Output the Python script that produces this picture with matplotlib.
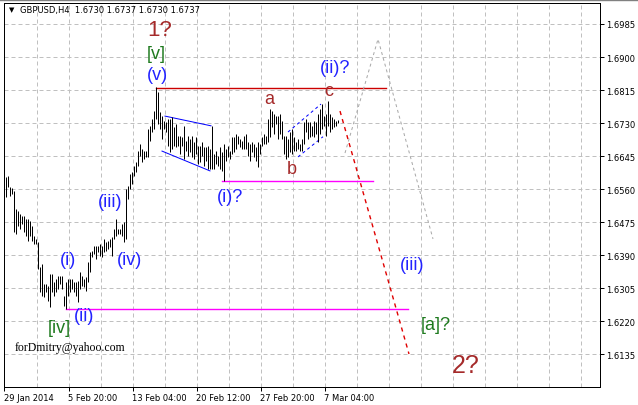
import matplotlib.pyplot as plt
from matplotlib.lines import Line2D

# GBPUSD H4 bars (one value per bar)
highs = [
    1.6592, 1.6594, 1.6566, 1.6563, 1.6555, 1.6509, 1.6504, 1.6496, 1.6491, 1.6491,
    1.6483, 1.6483, 1.6478, 1.6465, 1.6440, 1.6432, 1.6424, 1.6360, 1.6367, 1.6316,
    1.6316, 1.6311, 1.6342, 1.6342, 1.6321, 1.6329, 1.6337, 1.6337, 1.6337, 1.6285,
    1.6321, 1.6329, 1.6329,
    1.6329, 1.6321, 1.6321, 1.6324, 1.6347, 1.6337, 1.6329, 1.6334, 1.6373, 1.6398,
    1.6401, 1.6414, 1.6414, 1.6414, 1.6419, 1.6414, 1.6432, 1.6424, 1.6427, 1.6432,
    1.6437, 1.6458, 1.6483, 1.6458, 1.6458, 1.6471, 1.6476, 1.6561, 1.6568, 1.6599,
    1.6604, 1.6620, 1.6630, 1.6658, 1.6676, 1.6663, 1.6658,
    1.6658, 1.6715, 1.6723, 1.6741, 1.6761, 1.6823, 1.6810, 1.6759, 1.6748, 1.6735,
    1.6733, 1.6741, 1.6741, 1.6746, 1.6720, 1.6728, 1.6697, 1.6697, 1.6695, 1.6723,
    1.6684, 1.6697, 1.6689, 1.6697, 1.6681, 1.6695, 1.6671, 1.6671, 1.6681, 1.6669,
    1.6669, 1.6671, 1.6663, 1.6723,
    1.6651, 1.6658, 1.6646, 1.6669, 1.6656, 1.6676, 1.6663, 1.6671, 1.6658, 1.6695,
    1.6695, 1.6702, 1.6697, 1.6689, 1.6684, 1.6697, 1.6702, 1.6681, 1.6676, 1.6681,
    1.6676, 1.6669, 1.6681, 1.6676, 1.6695, 1.6702, 1.6697, 1.6741, 1.6766, 1.6761,
    1.6753, 1.6748, 1.6748, 1.6753,
    1.6735, 1.6697, 1.6697, 1.6689, 1.6707, 1.6715, 1.6695, 1.6681, 1.6689, 1.6676,
    1.6689, 1.6733, 1.6741, 1.6733, 1.6733, 1.6723, 1.6735, 1.6733, 1.6753, 1.6766,
    1.6779, 1.6748, 1.6753, 1.6787, 1.6753, 1.6746, 1.6741, 1.6735, 1.6737,
]
lows = [
    1.6540, 1.6566, 1.6543, 1.6548, 1.6450, 1.6445, 1.6465, 1.6458, 1.6471, 1.6450,
    1.6440, 1.6427, 1.6440, 1.6427, 1.6419, 1.6419, 1.6355, 1.6295, 1.6285, 1.6282,
    1.6295, 1.6272, 1.6257, 1.6295, 1.6285, 1.6295, 1.6303, 1.6316, 1.6303, 1.6259,
    1.6251, 1.6285, 1.6295,
    1.6303, 1.6295, 1.6285, 1.6269, 1.6303, 1.6311, 1.6308, 1.6298, 1.6321, 1.6347,
    1.6386, 1.6393, 1.6380, 1.6398, 1.6388, 1.6386, 1.6398, 1.6401, 1.6406, 1.6411,
    1.6388, 1.6432, 1.6440, 1.6445, 1.6445, 1.6440, 1.6424, 1.6432, 1.6535, 1.6561,
    1.6573, 1.6594, 1.6604, 1.6620, 1.6646, 1.6630, 1.6638,
    1.6643, 1.6643, 1.6684, 1.6707, 1.6715, 1.6741, 1.6728, 1.6715, 1.6689, 1.6715,
    1.6707, 1.6671, 1.6656, 1.6663, 1.6671, 1.6669, 1.6671, 1.6651, 1.6671, 1.6638,
    1.6658, 1.6646, 1.6656, 1.6643, 1.6638, 1.6651, 1.6625, 1.6630, 1.6646, 1.6620,
    1.6633, 1.6612, 1.6612, 1.6612,
    1.6612, 1.6625, 1.6620, 1.6612, 1.6607, 1.6581, 1.6633, 1.6643, 1.6638, 1.6651,
    1.6656, 1.6663, 1.6676, 1.6669, 1.6663, 1.6663, 1.6663, 1.6646, 1.6633, 1.6656,
    1.6643, 1.6633, 1.6618, 1.6651, 1.6671, 1.6676, 1.6676, 1.6681, 1.6695, 1.6720,
    1.6702, 1.6728, 1.6689, 1.6702,
    1.6689, 1.6651, 1.6638, 1.6643, 1.6656, 1.6651, 1.6658, 1.6658, 1.6663, 1.6658,
    1.6658, 1.6676, 1.6707, 1.6689, 1.6695, 1.6697, 1.6695, 1.6702, 1.6681, 1.6702,
    1.6715, 1.6723, 1.6697, 1.6723, 1.6707, 1.6715, 1.6720, 1.6723, 1.6730,
]

price_ticks = [1.6985, 1.6900, 1.6815, 1.6730, 1.6645, 1.6560, 1.6475,
               1.6390, 1.6305, 1.6220, 1.6135]
date_labels = ['29 Jan 2014', '5 Feb 20:00', '13 Feb 04:00', '20 Feb 12:00',
               '27 Feb 20:00', '7 Mar 04:00']
date_pos = [-1, 31.25, 63.25, 95.25, 127.25, 159.25]
grid_pos = [15.25 + 16 * k for k in range(18)]

# horizontal levels: (price, start bar, end bar, colour)
levels = [(1.6820, 75, 190, '#cc0000'),
          (1.6581, 108, 183.5, '#ff00ff'),
          (1.6251, 30, 201, '#ff00ff')]

# drawn lines (bar index, price)
wedge_top = ([79.5, 102.5], [1.6748, 1.6723])
wedge_bot = ([78, 102], [1.6658, 1.6607])
abc_top = ([141, 157.5], [1.6707, 1.6779])
abc_bot = ([146, 158.5], [1.6643, 1.6695])
path_down = ([167, 201.5], [1.6761, 1.6136])
path_up = ([169.5, 186, 213.5], [1.6653, 1.6946, 1.6432])

# wave labels: text, bar index, price, colour, size
brown = '#a52a2a'
green = '#1f7a1f'
blue = '#2222ff'
labels = [
    ('1?', 77, 1.6970, brown, 16),
    ('[v]', 75, 1.6908, green, 13),
    ('(v)', 75.5, 1.6854, blue, 13),
    ('(iii)', 52, 1.6527, blue, 13),
    ('(iv)', 62, 1.6380, blue, 13),
    ('(i)', 31, 1.6380, blue, 13),
    ('(ii)', 39, 1.6236, blue, 13),
    ('[iv]', 26.5, 1.6203, green, 13),
    ('(i)?', 112, 1.6540, blue, 13),
    ('a', 131.5, 1.6792, brown, 13),
    ('b', 143, 1.6612, brown, 13),
    ('c', 161.5, 1.6815, brown, 13),
    ('(ii)?', 164.5, 1.6872, blue, 13),
    ('(iii)', 203, 1.6367, blue, 13),
    ('[a]?', 215, 1.6211, green, 13),
    ('2?', 230, 1.6108, brown, 18),
]

W, H = 638, 406
fig = plt.figure(figsize=(W / 100, H / 100), dpi=100)
fig.patch.set_facecolor('white')
ax = fig.add_axes([4 / W, 1 - 388 / H, 596 / W, 384 / H])
ax.set_xlim(-1, 297)
ax.set_ylim(1.60510, 1.70390)

px = 0.72
for g in grid_pos:
    ax.axvline(g, color='#c0c0c0', lw=px, ls=(0, (4, 3)), zorder=0)
for t in price_ticks:
    ax.axhline(t, color='#c0c0c0', lw=px, ls=(0, (4, 3)), zorder=0)

ax.vlines(range(len(highs)), lows, highs, color='black', lw=px, zorder=3)

for p, x0, x1, c in levels:
    ax.plot([x0, x1], [p, p], color=c, lw=1.0, zorder=2)

ax.plot(*wedge_top, color='#0000ff', lw=px, zorder=2)
ax.plot(*wedge_bot, color='#0000ff', lw=px, zorder=2)
ax.plot(*abc_top, color='#0000ff', lw=px, ls=(0, (3, 3)), zorder=2)
ax.plot(*abc_bot, color='#0000ff', lw=px, ls=(0, (3, 3)), zorder=2)
ax.plot(*path_down, color='#e00000', lw=1.0, ls=(0, (3, 3)), zorder=2)
ax.plot(*path_up, color='#a8a8a8', lw=px, ls=(0, (3, 3)), zorder=2)

for txt, x, y, c, s in labels:
    ax.text(x, y, txt, color=c, fontsize=s, family='Liberation Sans',
            ha='center', va='center', zorder=4)

ax.text(4.5, 1.6154, 'forDmitry@yahoo.com', family='Liberation Serif',
        fontsize=8.5, ha='left', va='center', color='black')

for sp in ax.spines.values():
    sp.set_color('black')
    sp.set_linewidth(px)

ax.yaxis.tick_right()
ax.set_yticks(price_ticks)
ax.set_yticklabels(['%.4f' % t for t in price_ticks])
ax.set_xticks(date_pos)
ax.set_xticklabels(date_labels)
for lab in ax.get_xticklabels():
    lab.set_ha('left')
ax.tick_params(axis='both', direction='out', length=3, width=px,
               labelsize=6, pad=1.5, colors='black')
ax.tick_params(axis='x', pad=1)

fig.text(12 / W, 1 - 10 / H, '\u25bc', fontsize=5, ha='center', va='center')
fig.text(20 / W, 1 - 10 / H, 'GBPUSD,H4  1.6730 1.6737 1.6730 1.6737',
         fontsize=6, ha='left', va='center')
fig.add_artist(Line2D([0, 1], [1 - 0.5 / H, 1 - 0.5 / H], color='#808080', lw=1))

fig.savefig('out.png', dpi=100)
